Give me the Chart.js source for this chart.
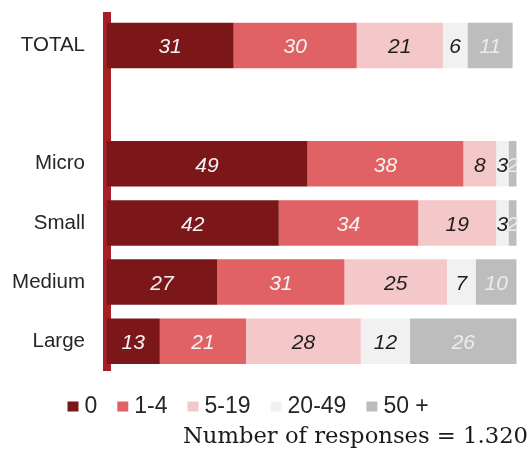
<!DOCTYPE html>
<html>
<head>
<meta charset="utf-8">
<script src="https://cdn.jsdelivr.net/npm/chart.js@4/dist/chart.umd.min.js"></script>
<style>
  html, body { margin: 0; padding: 0; background: #ffffff; }
  #wrap { position: relative; width: 531px; height: 456px; }
</style>
</head>
<body>
<div id="wrap"><canvas id="chart" width="531" height="456"></canvas></div>
<script>
// Company size groups (blank row separates the total from the breakdown)
const categories = ['TOTAL', '', 'Micro', 'Small', 'Medium', 'Large'];

// Legend names for the five response bands
const bandNames = ['0', '1-4', '5-19', '20-49', '50 +'];

// Share of responses (%) per band
const band0       = [31, null, 49, 42, 27, 13];
const band1to4    = [30, null, 38, 34, 31, 21];
const band5to19   = [21, null,  8, 19, 25, 28];
const band20to49  = [ 6, null,  3,  3,  7, 12];
const band50plus  = [11, null,  2,  2, 10, 26];

const footnote = 'Number of responses = 1.320';

const bandColors  = ['#7b1719', '#e06264', '#f4c7c8', '#f1f1f1', '#bdbdbd'];
const labelColors = ['#f4f4f4', '#f4f4f4', '#1e1e1e', '#1e1e1e', '#ececec'];
const axisColor   = '#a51f24';
const textColor   = '#262626';
const sansFamily  = '"Liberation Sans", Arial, sans-serif';

// Value labels centred inside every segment
const valueLabels = {
  id: 'valueLabels',
  afterDatasetsDraw(chart) {
    const ctx = chart.ctx;
    ctx.save();
    ctx.font = 'italic 21px ' + sansFamily;
    ctx.textAlign = 'center';
    ctx.textBaseline = 'middle';
    chart.data.datasets.forEach((ds, i) => {
      const meta = chart.getDatasetMeta(i);
      meta.data.forEach((bar, j) => {
        const v = ds.data[j];
        if (v === null || v === undefined) return;
        const p = bar.getProps(['x', 'base', 'y'], true);
        ctx.fillStyle = labelColors[i];
        ctx.fillText(String(v), (p.x + p.base) / 2, p.y + 2);
      });
    });
    ctx.restore();
  }
};

// Compact legend row plus the sample-size note underneath
const legendAndNote = {
  id: 'legendAndNote',
  afterDraw(chart) {
    const ctx = chart.ctx;
    ctx.save();
    ctx.font = '23px ' + sansFamily;
    ctx.textBaseline = 'middle';
    ctx.textAlign = 'left';
    let x = 67.5;
    const yMid = 406.5;
    chart.data.datasets.forEach((ds) => {
      ctx.fillStyle = ds.backgroundColor;
      ctx.fillRect(x, yMid - 5, 11, 10);
      x += 17;
      ctx.fillStyle = textColor;
      ctx.fillText(ds.label, x, yMid);
      x += ctx.measureText(ds.label).width + 20;
    });

    ctx.font = '22.7px "DejaVu Serif", Georgia, serif';
    ctx.textAlign = 'right';
    ctx.textBaseline = 'alphabetic';
    ctx.fillStyle = '#1a1a1a';
    ctx.fillText(footnote, 528, 443);
    ctx.restore();
  }
};

const seriesValues = [band0, band1to4, band5to19, band20to49, band50plus];

new Chart(document.getElementById('chart'), {
  type: 'bar',
  data: {
    labels: categories,
    datasets: seriesValues.map((values, i) => ({
      label: bandNames[i],
      data: values,
      backgroundColor: bandColors[i],
      borderWidth: 0,
      barPercentage: 0.77,
      categoryPercentage: 1
    }))
  },
  options: {
    indexAxis: 'y',
    responsive: false,
    animation: false,
    devicePixelRatio: 1,
    layout: { padding: { top: 16, right: 14.3, bottom: 85.3, left: 0 } },
    plugins: {
      legend: { display: false },
      tooltip: { enabled: false }
    },
    scales: {
      x: {
        stacked: true,
        min: 0,
        max: 100,
        display: false
      },
      y: {
        stacked: true,
        afterFit(scale) {
          scale.width = 106.5;
          scale.paddingTop = 0;
          scale.paddingBottom = 0;
        },
        grid: { display: false, drawTicks: false },
        border: { display: true, color: axisColor, width: 8 },
        ticks: {
          autoSkip: false,
          padding: 21.5,
          color: textColor,
          font: { family: sansFamily, size: 20.5 }
        }
      }
    }
  },
  plugins: [valueLabels, legendAndNote]
});
</script>
</body>
</html>
